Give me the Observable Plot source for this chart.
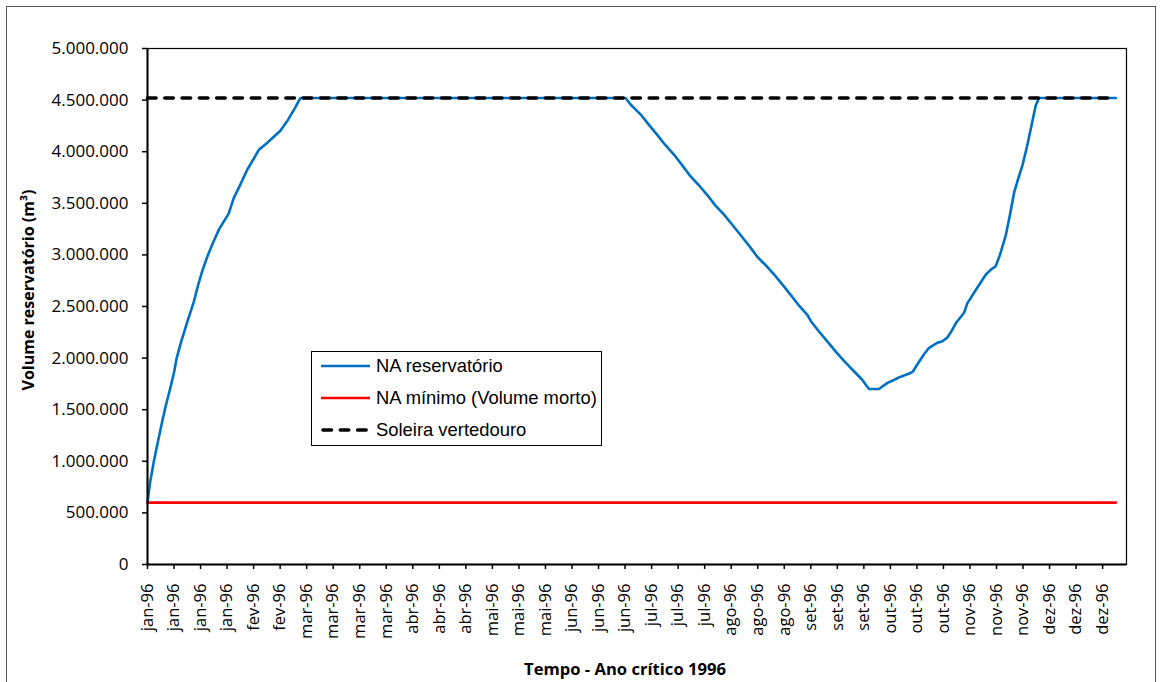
<!DOCTYPE html>
<html>
<head>
<meta charset="utf-8">
<script src="https://cdn.jsdelivr.net/npm/d3@7"></script>
<script src="https://cdn.jsdelivr.net/npm/@observablehq/plot@0.6"></script>
<style>
  html, body { margin: 0; padding: 0; background: #fff; }
  #wrap { position: relative; width: 1164px; height: 682px; overflow: hidden; font-family: "Open Sans", sans-serif; }
  #border { position: absolute; left: 6px; top: 6px; width: 1150px; height: 700px; border: 1.5px solid #555; box-sizing: border-box; }
  #chart { position: absolute; left: 0; top: 0; }
  .ytitle { position: absolute; left: 28px; top: 290px; transform: translate(-50%, -50%) rotate(-90deg); font-weight: bold; font-size: 16px; white-space: nowrap; color: #000; }
  .xtitle { position: absolute; left: 625px; top: 668px; transform: translate(-50%, -50%); font-weight: bold; font-size: 16.6px; white-space: nowrap; color: #000; }
  #legend { position: absolute; left: 311px; top: 351px; width: 291px; height: 95px; border: 1px solid #000; box-sizing: border-box; background: #fff; font-family: "Liberation Sans", Arial, sans-serif; font-size: 18.4px; color: #000; }
  .li { position: absolute; left: 9px; height: 20px; display: flex; align-items: center; white-space: nowrap; }
  .li svg { margin-right: 5px; }
</style>
</head>
<body>
<div id="wrap">
  <div id="border"></div>
  <div id="chart"></div>
  <div class="ytitle">Volume reservatório (m³)</div>
  <div class="xtitle">Tempo - Ano crítico 1996</div>
  <div id="legend"></div>
</div>
<script>
// ---- data ----
const tickDays = [0,10,20,30,40,50,60,70,80,90,100,110,120,130,140,150,160,170,180,190,200,210,220,230,240,250,260,270,280,290,300,310,320,330,340,350,360];
const tickLabels = ["jan-96","jan-96","jan-96","jan-96","fev-96","fev-96","mar-96","mar-96","mar-96","mar-96","abr-96","abr-96","abr-96","mai-96","mai-96","mai-96","jun-96","jun-96","jun-96","jul-96","jul-96","jul-96","ago-96","ago-96","ago-96","set-96","set-96","set-96","out-96","out-96","out-96","nov-96","nov-96","nov-96","dez-96","dez-96","dez-96"];
const yTicks = [0,500000,1000000,1500000,2000000,2500000,3000000,3500000,4000000,4500000,5000000];

// NA reservatório (day index, volume m³)
const volDay = [0,1,2.4,4,5.5,7,8.5,10,11,12.7,15,17.5,19,20.6,22.5,24.4,27,30.6,32.5,34.4,37.5,40,42,44.4,47,50,53,55.5,57.6,
  180.2,182,185.9,189,192.2,195,198.5,201.5,204.7,208,211,214,217.3,220.5,223.6,227,229.9,233,236.2,239.4,242.5,245.5,248.7,
  250,253,256.3,259.5,262.6,266,269.4,270.8,272,275.7,278.9,281.5,283.9,287.1,288.5,290.2,292.5,294.6,297.8,299.5,301.5,303,304.7,307.8,309,312.2,316,318,319.7,321.3,323.5,325,326.7,328.2,329.8,331.5,333,334.8,336.1,365];
const volValue = [600000,800000,1000000,1200000,1380000,1550000,1700000,1860000,2000000,2160000,2350000,2550000,2700000,2840000,2980000,3100000,3250000,3400000,3550000,3650000,3820000,3930000,4020000,4070000,4130000,4200000,4310000,4420000,4520000,
  4520000,4460000,4360000,4260000,4160000,4070000,3970000,3870000,3760000,3670000,3580000,3480000,3390000,3290000,3190000,3080000,2980000,2900000,2810000,2710000,2610000,2510000,2420000,
  2360000,2260000,2160000,2060000,1970000,1880000,1790000,1740000,1700000,1700000,1760000,1790000,1820000,1850000,1870000,1940000,2030000,2100000,2150000,2160000,2200000,2260000,2340000,2440000,2530000,2660000,2810000,2860000,2890000,3000000,3190000,3380000,3610000,3740000,3870000,4050000,4230000,4450000,4520000,4520000];

// NA mínimo (Volume morto)
const minDay = [0, 365];
const minValue = [600000, 600000];

// Soleira vertedouro
const sillDay = [0, 365];
const sillValue = [4520000, 4520000];

const seriesNames = ["NA reservatório", "NA mínimo (Volume morto)", "Soleira vertedouro"];
const seriesColors = ["#0070C0", "#FF0000", "#000000"];

// ---- chart ----
const toRows = (xs, ys) => xs.map((d, i) => ({day: d, v: ys[i]}));
const fmt = d3.formatLocale({decimal: ",", thousands: ".", grouping: [3], currency: ["", ""]}).format(",d");

const chart = Plot.plot({
  width: 1164,
  height: 682,
  marginLeft: 147,
  marginRight: 38,
  marginTop: 48,
  marginBottom: 118,
  style: {fontFamily: "'Open Sans', sans-serif", fontSize: "17px", color: "#000", background: "transparent"},
  x: {domain: [0, 369]},
  y: {domain: [0, 5000000]},
  marks: [
    Plot.frame({stroke: "#000", strokeWidth: 1.2}),
    Plot.line(toRows(volDay, volValue), {x: "day", y: "v", stroke: seriesColors[0], strokeWidth: 2.6}),
    Plot.line(toRows(minDay, minValue), {x: "day", y: "v", stroke: seriesColors[1], strokeWidth: 2.6}),
    Plot.line(toRows(sillDay, sillValue), {x: "day", y: "v", stroke: seriesColors[2], strokeWidth: 3.6, strokeDasharray: "8.5,8.8", strokeLinecap: "round"}),
    Plot.ruleX([0], {stroke: "#000", strokeWidth: 2}),
    Plot.ruleY([0], {stroke: "#000", strokeWidth: 2}),
    Plot.axisY({ticks: yTicks, tickFormat: fmt, tickSize: 5, tickPadding: 14, label: null, fontSize: 17, strokeWidth: 1.5}),
    Plot.axisX({ticks: tickDays, tickFormat: d => tickLabels[tickDays.indexOf(d)], tickRotate: -90, tickSize: 5, tickPadding: 14, label: null, fontSize: 16.5, strokeWidth: 1.5})
  ]
});
document.getElementById("chart").appendChild(chart);

// ---- legend ----
const legend = document.getElementById("legend");
const rowTops = [4, 36, 68];
seriesNames.forEach((name, i) => {
  const row = document.createElement("div");
  row.className = "li";
  row.style.top = rowTops[i] + "px";
  const dash = i === 2 ? 'stroke-dasharray="8.5,8.8" stroke-linecap="round" stroke-width="3.6"' : 'stroke-width="2.6"';
  row.innerHTML = `<svg width="50" height="10"><line x1="${i===2?2:0}" y1="5" x2="49" y2="5" stroke="${seriesColors[i]}" ${dash}/></svg><span>${name}</span>`;
  legend.appendChild(row);
});
</script>
</body>
</html>
